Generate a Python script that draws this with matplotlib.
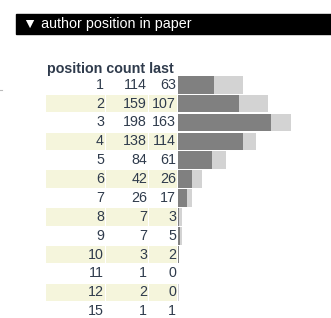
import matplotlib
matplotlib.use('Agg')
import matplotlib.pyplot as plt
from matplotlib.patches import Rectangle

positions = ['1', '2', '3', '4', '5', '6', '7', '8', '9', '10', '11', '12', '15']
counts = [114, 159, 198, 138, 84, 42, 26, 7, 7, 3, 1, 2, 1]
lasts = [63, 107, 163, 114, 61, 26, 17, 3, 5, 2, 0, 0, 1]
title = '\u25bc author position in paper'
columns = ['position', 'count', 'last']

W, H = 331, 318
txt = '#2f3b4c'
fam = ['Liberation Sans', 'DejaVu Sans']
fs = 10.3

fig = plt.figure(figsize=(W / 100, H / 100), dpi=100)
ax = fig.add_axes([0, 0, 1, 1])
ax.set_xlim(0, W)
ax.set_ylim(H, 0)
ax.axis('off')

# header bar
ax.add_patch(Rectangle((16, 14), W - 16, 19.5, color='black'))
ax.text(23, 24, title, color='white', fontsize=fs, family=fam, va='center')

# table
pitch = 18.88
top0 = 75.3
cells = [(46, 105), (106, 148), (149, 177)]
ax.text(47, 72.5, ' '.join(columns), fontsize=fs, fontweight='bold', color=txt,
        family=fam, va='baseline')
for i, row in enumerate(zip(positions, counts, lasts)):
    top = top0 + i * pitch
    for j, (x0, x1) in enumerate(cells):
        if i % 2 == 1:
            ax.add_patch(Rectangle((x0, top + 0.6), x1 - x0, pitch - 1.3,
                                   color='#f5f5dc', lw=0))
        ax.text(x1 - 1, top + 13.4, str(row[j]), fontsize=fs,
                color=txt, family=fam, ha='right', va='baseline')

# bars
scale = 0.572
bx = 177.5
bax = fig.add_axes([bx / W, 0, (W - bx) / W, 1])
bax.set_xlim(0, (W - bx) / scale)
bax.set_ylim(H, 0)
bax.axis('off')
ys = [top0 + i * pitch + pitch / 2 for i in range(len(positions))]
bax.barh(ys, counts, height=pitch - 1.2, color='#d3d3d3', lw=0)
bax.barh(ys, lasts, height=pitch - 1.2, color='#808080', lw=0)

ax.plot([0, 1.5], [90, 90], color='#bbbbbb', lw=0.8)

fig.savefig('out.png', dpi=100)
